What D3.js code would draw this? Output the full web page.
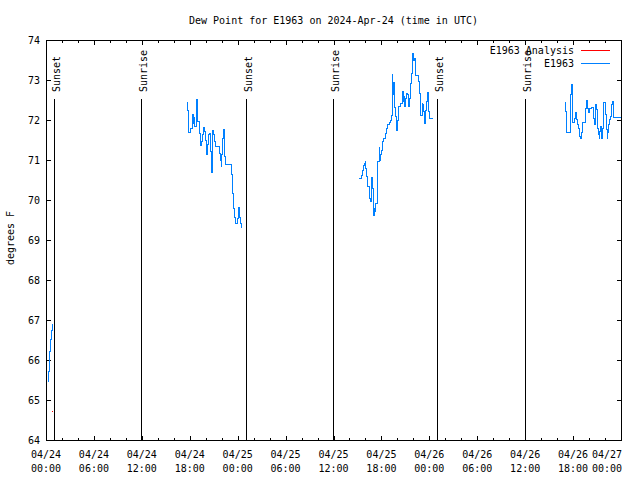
<!DOCTYPE html>
<html><head><meta charset="utf-8">
<script src="https://cdn.jsdelivr.net/npm/d3@7"></script>
<style>
body{margin:0;background:#fff}
text{font-family:"DejaVu Sans Mono",monospace;font-size:10px;fill:#000}
</style>
</head><body>
<svg id="c" width="640" height="480"></svg>
<script>
const titleText = "Dew Point for E1963 on 2024-Apr-24 (time in UTC)";
const yLabelText = "degrees F";
const yTickValues = [64,65,66,67,68,69,70,71,72,73,74];
const xDomain = ["2024-04-24 00:00", "2024-04-27 00:00"];
const sunTimes = ["2024-04-24 01:00","2024-04-24 11:56","2024-04-25 01:02","2024-04-25 11:57","2024-04-26 00:58","2024-04-26 11:59"];
const sunLabels = ["Sunset","Sunrise","Sunset","Sunrise","Sunset","Sunrise"];
const sunLineTopValue = 72.52;
const legendLabels = ["E1963 Analysis","E1963"];
const seriesColors = ["#ff0000","#0080ff"];

const analysisTimes = ["2024-04-24 00:47"];
const analysisValues = [64.72];

const obsTimes1 = ["2024-04-24 00:15","2024-04-24 00:16","2024-04-24 00:25","2024-04-24 00:33","2024-04-24 00:43","2024-04-24 00:50"];
const obsValues1 = [65.46,65.71,66.21,66.52,66.73,66.90];

const obsTimes2 = ["2024-04-24 17:42","2024-04-24 17:44","2024-04-24 17:49","2024-04-24 17:54","2024-04-24 18:09","2024-04-24 18:17","2024-04-24 18:24","2024-04-24 18:29","2024-04-24 18:34","2024-04-24 18:39","2024-04-24 18:47","2024-04-24 18:54","2024-04-24 18:59","2024-04-24 19:12","2024-04-24 19:19","2024-04-24 19:24","2024-04-24 19:32","2024-04-24 19:39","2024-04-24 19:47","2024-04-24 19:54","2024-04-24 20:02","2024-04-24 20:09","2024-04-24 20:17","2024-04-24 20:22","2024-04-24 20:29","2024-04-24 20:37","2024-04-24 20:42","2024-04-24 20:44","2024-04-24 20:49","2024-04-24 20:54","2024-04-24 21:02","2024-04-24 21:07","2024-04-24 21:12","2024-04-24 21:47","2024-04-24 21:52","2024-04-24 21:57","2024-04-24 22:02","2024-04-24 22:07","2024-04-24 22:12","2024-04-24 22:19","2024-04-24 22:24","2024-04-24 22:29","2024-04-24 23:17","2024-04-24 23:22","2024-04-24 23:29","2024-04-24 23:34","2024-04-24 23:42","2024-04-24 23:55","2024-04-25 00:07","2024-04-25 00:12","2024-04-25 00:20","2024-04-25 00:27"];
const obsValues2 = [72.44,72.25,71.88,71.69,71.79,72.03,72.15,71.92,72.06,71.83,72.31,72.52,71.96,71.67,71.46,71.36,71.46,71.63,71.82,71.71,71.50,71.13,71.38,71.63,71.67,71.21,70.96,70.69,71.33,71.75,71.64,71.46,71.33,71.17,71.00,70.83,71.13,71.54,71.77,71.54,71.08,70.90,70.63,70.17,69.79,69.56,69.42,69.53,69.82,69.56,69.42,69.31];

const obsTimes3 = ["2024-04-25 15:14","2024-04-25 15:29","2024-04-25 15:36","2024-04-25 15:44","2024-04-25 15:51","2024-04-25 15:59","2024-04-25 16:02","2024-04-25 16:06","2024-04-25 16:12","2024-04-25 16:27","2024-04-25 16:34","2024-04-25 16:40","2024-04-25 16:49","2024-04-25 16:54","2024-04-25 16:59","2024-04-25 17:04","2024-04-25 17:10","2024-04-25 17:14","2024-04-25 17:19","2024-04-25 17:27","2024-04-25 17:34","2024-04-25 17:42","2024-04-25 17:47","2024-04-25 17:52","2024-04-25 18:02","2024-04-25 18:10","2024-04-25 18:17","2024-04-25 18:29","2024-04-25 18:37","2024-04-25 18:44","2024-04-25 18:57","2024-04-25 19:05","2024-04-25 19:12","2024-04-25 19:20","2024-04-25 19:22","2024-04-25 19:27","2024-04-25 19:29","2024-04-25 19:37","2024-04-25 19:44","2024-04-25 19:50","2024-04-25 19:55","2024-04-25 19:59","2024-04-25 20:07","2024-04-25 20:12","2024-04-25 20:27","2024-04-25 20:35","2024-04-25 20:40","2024-04-25 20:44","2024-04-25 20:50","2024-04-25 20:55","2024-04-25 21:02","2024-04-25 21:07","2024-04-25 21:14","2024-04-25 21:20","2024-04-25 21:25","2024-04-25 21:29","2024-04-25 21:35","2024-04-25 21:40","2024-04-25 21:44","2024-04-25 21:50","2024-04-25 21:55","2024-04-25 22:03","2024-04-25 22:07","2024-04-25 22:15","2024-04-25 22:37","2024-04-25 22:45","2024-04-25 22:52","2024-04-25 22:57","2024-04-25 23:05","2024-04-25 23:12","2024-04-25 23:18","2024-04-25 23:25","2024-04-25 23:30","2024-04-25 23:37","2024-04-25 23:45","2024-04-25 23:50","2024-04-25 23:55","2024-04-26 00:00","2024-04-26 00:25"];
const obsValues3 = [70.54,70.61,70.75,70.86,70.92,70.96,70.79,70.58,70.33,70.25,70.04,69.96,70.57,70.29,69.79,69.61,69.79,69.71,69.92,70.29,70.96,71.32,71.00,71.13,71.25,71.46,71.54,71.67,71.79,71.90,71.94,72.00,72.11,72.63,73.13,72.63,72.94,72.31,72.08,71.88,71.75,72.00,72.17,72.33,72.42,72.63,72.71,72.46,72.58,72.33,72.54,72.67,72.63,72.46,72.33,72.54,72.67,72.92,73.17,73.46,73.67,73.50,73.54,73.12,72.96,72.67,72.29,72.12,72.42,72.38,72.21,71.92,72.25,72.46,72.68,72.42,72.21,72.04,72.04];

const obsTimes4 = ["2024-04-26 17:01","2024-04-26 17:04","2024-04-26 17:09","2024-04-26 17:14","2024-04-26 17:37","2024-04-26 17:44","2024-04-26 17:50","2024-04-26 17:54","2024-04-26 17:59","2024-04-26 18:12","2024-04-26 18:20","2024-04-26 18:27","2024-04-26 18:32","2024-04-26 18:39","2024-04-26 18:50","2024-04-26 18:57","2024-04-26 19:02","2024-04-26 19:07","2024-04-26 19:12","2024-04-26 19:30","2024-04-26 19:37","2024-04-26 19:42","2024-04-26 19:47","2024-04-26 19:52","2024-04-26 19:57","2024-04-26 20:02","2024-04-26 20:07","2024-04-26 20:15","2024-04-26 20:30","2024-04-26 20:35","2024-04-26 20:42","2024-04-26 20:47","2024-04-26 20:50","2024-04-26 20:54","2024-04-26 21:00","2024-04-26 21:05","2024-04-26 21:09","2024-04-26 21:15","2024-04-26 21:22","2024-04-26 21:27","2024-04-26 21:32","2024-04-26 21:39","2024-04-26 21:47","2024-04-26 21:52","2024-04-26 22:00","2024-04-26 22:05","2024-04-26 22:09","2024-04-26 22:15","2024-04-26 22:22","2024-04-26 22:27","2024-04-26 22:32","2024-04-26 22:39","2024-04-26 22:47","2024-04-26 22:52","2024-04-26 22:57","2024-04-26 23:02","2024-04-26 23:07","2024-04-27 00:00"];
const obsValues4 = [72.43,72.22,71.88,71.69,71.93,72.65,72.90,72.63,71.93,72.05,72.20,72.01,71.88,71.80,71.59,71.53,71.68,71.80,71.93,72.13,72.30,72.48,72.40,72.30,72.18,72.22,72.28,72.32,72.22,72.05,71.88,72.22,72.38,72.26,71.97,71.80,71.63,71.53,71.72,71.84,71.53,71.80,72.22,72.45,72.30,72.13,71.76,71.55,71.68,71.88,72.01,72.09,72.22,72.40,72.47,72.26,72.07,72.07];

const parse = d3.utcParse("%Y-%m-%d %H:%M");
const L = 46, R = 621, T = 40, B = 440, W = 640;
const svg = d3.select("#c");
const x = d3.scaleUtc().domain(xDomain.map(parse)).range([L, R]);
const y = d3.scaleLinear().domain([64, 74]).range([B, T]);

const g = svg.append("g").attr("shape-rendering","crispEdges");

// frame
g.append("rect").attr("x", L+0.5).attr("y", T+0.5).attr("width", R-L).attr("height", B-T)
  .attr("fill","none").attr("stroke","#000").attr("stroke-width",1);

// y ticks
yTickValues.forEach(v => {
  const yy = Math.round(y(v)) + 0.5;
  g.append("line").attr("x1",L).attr("x2",L+5).attr("y1",yy).attr("y2",yy).attr("stroke","#000");
  g.append("line").attr("x1",R+1).attr("x2",R-4).attr("y1",yy).attr("y2",yy).attr("stroke","#000");
  svg.append("text").attr("x", 40).attr("y", y(v)+4).attr("text-anchor","end").text(v);
});

// x ticks
const [d0, d1] = x.domain();
const minor = d3.utcHour.every(2).range(d0, new Date(+d1 + 1));
const major = d3.utcHour.every(6).range(d0, new Date(+d1 + 1));
minor.forEach(t => {
  const xx = Math.round(x(t)) + 0.5;
  const isMajor = t.getUTCHours() % 6 === 0;
  const len = isMajor ? 5 : 3;
  g.append("line").attr("x1",xx).attr("x2",xx).attr("y1",B+1).attr("y2",B+1-len).attr("stroke","#000");
  g.append("line").attr("x1",xx).attr("x2",xx).attr("y1",T).attr("y2",T+len).attr("stroke","#000");
});
const fmtD = d3.utcFormat("%m/%d"), fmtT = d3.utcFormat("%H:%M");
major.forEach(t => {
  const cx = Math.min(x(t), W - 33);
  const tx = svg.append("text").attr("text-anchor","middle");
  tx.append("tspan").attr("x", cx).attr("y", 458).text(fmtD(t));
  tx.append("tspan").attr("x", cx).attr("y", 472).text(fmtT(t));
});

// sun lines
sunTimes.forEach((s, i) => {
  const xx = Math.round(x(parse(s))) + 0.5;
  g.append("line").attr("x1",xx).attr("x2",xx).attr("y1",Math.round(y(sunLineTopValue))).attr("y2",B).attr("stroke","#000");
  svg.append("text").attr("transform",`translate(${xx+5},92) rotate(-90)`).attr("text-anchor","start").text(sunLabels[i]);
});

// series
const line = d3.line().x(d => x(d.t)).y(d => y(d.v)).curve(d3.curveStepAfter);
const segs = [[obsTimes1,obsValues1],[obsTimes2,obsValues2],[obsTimes3,obsValues3],[obsTimes4,obsValues4]];
svg.append("clipPath").attr("id","pc").append("rect").attr("x",L).attr("y",T).attr("width",R-L+1).attr("height",B-T);
const pg = svg.append("g").attr("clip-path","url(#pc)").attr("shape-rendering","crispEdges");
segs.forEach(([ts, vs]) => {
  const data = ts.map((t, i) => ({t: parse(t), v: vs[i]}));
  pg.append("path").datum(data).attr("d", line).attr("fill","none").attr("stroke",seriesColors[1]).attr("stroke-width",1);
});
analysisTimes.forEach((t, i) => {
  pg.append("rect").attr("x", x(parse(t))-0.5).attr("y", y(analysisValues[i])-0.5).attr("width",1.5).attr("height",1.5).attr("fill",seriesColors[0]);
});

// title & labels
svg.append("text").attr("x", (L+R)/2).attr("y", 24).attr("text-anchor","middle").text(titleText);
svg.append("text").attr("transform","translate(14,238) rotate(-90)").attr("text-anchor","middle").text(yLabelText);

// legend
legendLabels.forEach((lab, i) => {
  const ly = 50 + i*13;
  svg.append("text").attr("x", 574).attr("y", ly+4).attr("text-anchor","end").text(lab);
  g.append("line").attr("x1",581).attr("x2",610).attr("y1",ly+0.5).attr("y2",ly+0.5).attr("stroke",seriesColors[i]);
});
</script>
</body></html>
